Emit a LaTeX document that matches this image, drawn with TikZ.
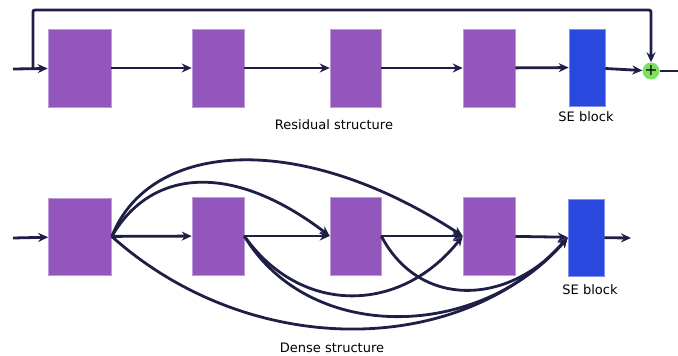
\documentclass[tikz,border=0pt]{standalone}
\usepackage{fontspec}
\setmainfont{DejaVu Sans}
\usepackage{xcolor}
\usepackage{tikz}
\usetikzlibrary{arrows, arrows.meta}
\definecolor{navy}{RGB}{30,30,70}
\definecolor{lilac}{RGB}{146,86,188}
\definecolor{seblue}{RGB}{40,72,222}
\definecolor{addgreen}{RGB}{126,224,96}
\tikzset{
  blk/.style={fill=lilac, draw=lilac!60!white, line width=.6pt, inner sep=0pt, minimum width=52pt, minimum height=78pt},
  seblk/.style={fill=seblue, draw=seblue!60!white, line width=.6pt, inner sep=0pt, minimum width=36pt, minimum height=77pt},
  addnode/.style={circle, fill=addgreen, inner sep=0pt, minimum size=16pt, font=\fontsize{16}{16}\selectfont},
  wire/.style={draw=navy, line width=2.8pt, -{Stealth[length=10pt,width=9pt]}},
  wiregreen/.style={draw=navy, line width=2.8pt, -{Stealth[length=10pt,width=9pt,fill=addgreen]}},
  plainwire/.style={draw=navy, line width=2.8pt},
  lbl/.style={font=\fontsize{13}{15}\selectfont}
}

\begin{document}
\begin{tikzpicture}[x=1pt, y=-1pt]
\useasboundingbox (0,0) rectangle (678,356);

\node[blk, minimum width=63pt] (r1) at (79.5,68) {};
\node[blk] (r2) at (218,68) {};
\node[blk, minimum width=51pt] (r3) at (355.5,68) {};
\node[blk] (r4) at (489,68) {};
\node[seblk] (rse) at (587,67.5) {};
\node[addnode] (rsum) at (651,71) {\raisebox{.5pt}{+}};
\coordinate (rin) at (13,69);
\coordinate (rsplit) at (33,69);
\coordinate (rcorner) at (651,10);
\coordinate (rout) at (678,71);
\node[lbl] (rlabel) at (334,125) {Residual structure};
\node[lbl] (rselabel) at (586,117) {SE block};

\draw[wire] (rin) -- (r1);
\draw[wire, rounded corners=2pt] (rsplit) |- (rcorner) -- (rsum.north);
\draw[wiregreen] (r1) -- (r2);
\draw[wire] (r2) -- (r3);
\draw[wire] (r3) -- (r4);
\draw[wire] (r4) -- (rse);
\draw[wire] (rse) -- (rsum);
\draw[plainwire] (rsum) -- (rout);

\begin{scope}
\node[blk, minimum width=63pt, minimum height=77pt] (d1) at (80,236.5) {};
\node[blk] (d2) at (218,236) {};
\node[blk, minimum width=51pt] (d3) at (355.5,236) {};
\node[blk] (d4) at (489,236) {};
\node[seblk] (dse) at (586,237.5) {};
\coordinate (din) at (13,238);
\coordinate (dout) at (631,238);
\node[lbl] (dlabel) at (332,348) {Dense structure};
\node[lbl] (dselabel) at (590,290) {SE block};

\draw[wire] (din) -- (d1);
\draw[wiregreen] (d1) -- (d2);
\draw[wire] (d2) -- (d3);
\draw[wire] (d3) -- (d4);
\draw[wire] (d4) -- (dse);
\draw[wire] (dse) -- (dout);

\draw[wire] (d1.east) .. controls (150,170) and (230,160) .. (d3.west);
\draw[wire] (d1.east) .. controls (150,140) and (300,130) .. (d4.west);
\draw[wire] (d1.east) .. controls (250,360) and (460,358) .. (dse.west);
\draw[wire] (d2.east) .. controls (300,315) and (400,315) .. (d4.west);
\draw[wire] (d2.east) .. controls (310,345) and (480,340) .. (dse.west);
\draw[wire] (d3.east) .. controls (420,310) and (510,305) .. (dse.west);
\end{scope}

\end{tikzpicture}
\end{document}
